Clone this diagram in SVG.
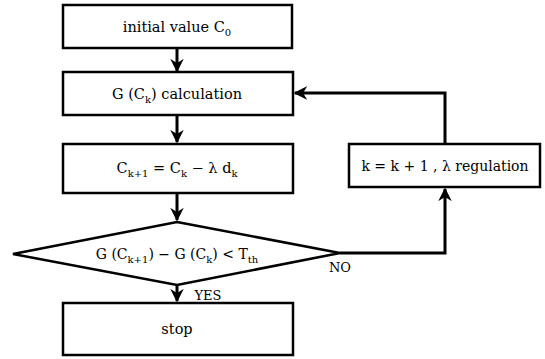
<svg xmlns="http://www.w3.org/2000/svg" width="545" height="359" viewBox="0 0 545 359">
<style>
.box{fill:#fff;stroke:#000;stroke-width:2.5}
.t{font-family:"DejaVu Serif","Liberation Serif",serif;font-size:14.5px;fill:#000;text-anchor:middle}
.s{font-size:10px}
.c{fill:none;stroke:#000;stroke-width:3}
</style>
<defs>
<marker id="ah" viewBox="0 0 10 10" refX="9" refY="5" markerWidth="4.5" markerHeight="4.5" orient="auto" markerUnits="strokeWidth">
<path d="M0,0 L10,5 L0,10 L3,5 z" fill="#000"/>
</marker>
</defs>
<g id="connectors">
<line class="c" x1="177" y1="48" x2="177" y2="71" marker-end="url(#ah)"/>
<line class="c" x1="177" y1="115" x2="177" y2="142" marker-end="url(#ah)"/>
<line class="c" x1="177" y1="193" x2="177" y2="220" marker-end="url(#ah)"/>
<line class="c" x1="177" y1="285" x2="177" y2="301" marker-end="url(#ah)"/>
<polyline class="c" points="340,253 445,253 445,189" marker-end="url(#ah)"/>
<polyline class="c" points="445,144 445,93 295,93" marker-end="url(#ah)"/>
<text class="t" x="208" y="300" style="font-size:13px">YES</text>
<text class="t" x="340" y="272" style="font-size:13px">NO</text>
</g>
<g id="init">
<rect class="box" x="63" y="5" width="229" height="43"/>
<text class="t" x="177" y="32">initial value C<tspan class="s" dy="4">0</tspan></text>
</g>
<g id="calc">
<rect class="box" x="63" y="72" width="230" height="43"/>
<text class="t" x="177" y="99">G (C<tspan class="s" dy="4">k</tspan><tspan dy="-4">) calculation</tspan></text>
</g>
<g id="update">
<rect class="box" x="63" y="144" width="230" height="49"/>
<text class="t" x="177" y="173">C<tspan class="s" dy="4">k+1</tspan><tspan dy="-4"> = C</tspan><tspan class="s" dy="4">k</tspan><tspan dy="-4"> −  λ d</tspan><tspan class="s" dy="4">k</tspan></text>
</g>
<g id="decision">
<polygon class="box" points="177,222 340,253 177,285 13,254"/>
<text class="t" x="177" y="259" style="font-size:14px">G (C<tspan class="s" dy="4">k+1</tspan><tspan dy="-4">) − G (C</tspan><tspan class="s" dy="4">k</tspan><tspan dy="-4">) &lt; T</tspan><tspan class="s" dy="4">th</tspan></text>
</g>
<g id="stop">
<rect class="box" x="63" y="303" width="230" height="52"/>
<text class="t" x="177" y="334">stop</text>
</g>
<g id="regulation">
<rect class="box" x="349" y="144" width="191" height="43"/>
<text class="t" x="445" y="171" style="font-size:14px">k = k + 1 , λ regulation</text>
</g>
</svg>
